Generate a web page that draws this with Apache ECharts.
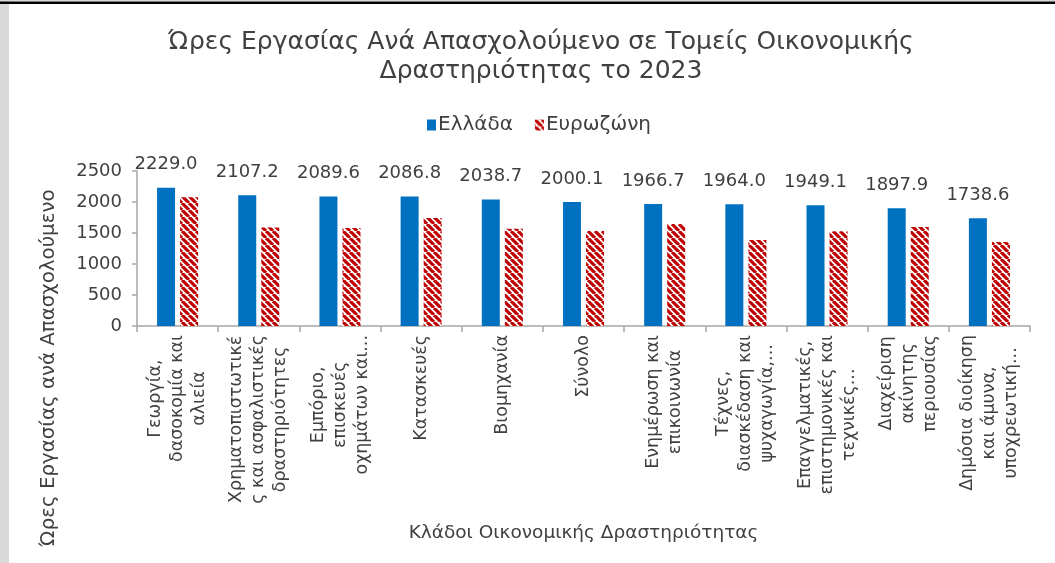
<!DOCTYPE html>
<html>
<head>
<meta charset="utf-8">
<script src="https://cdn.jsdelivr.net/npm/echarts@6/dist/echarts.min.js"></script>
<style>
html,body{margin:0;padding:0;background:#fff;}
#chart{width:1055px;height:563px;}
</style>
</head>
<body>
<div id="chart"></div>
<script>
const categories = [
  "Γεωργία,\nδασοκομία και\nαλιεία",
  "Χρηματοπιστωτικέ\nς και ασφαλιστικές\nδραστηριότητες",
  "Εμπόριο,\nεπισκευές\nοχημάτων και...",
  "Κατασκευές",
  "Βιομηχανία",
  "Σύνολο",
  "Ενημέρωση και\nεπικοινωνία",
  "Τέχνες,\nδιασκέδαση και\nψυχαγωγία,...",
  "Επαγγελματικές,\nεπιστημονικές και\nτεχνικές...",
  "Διαχείριση\nακίνητης\nπεριουσίας",
  "Δημόσια διοίκηση\nκαι άμυνα,\nυποχρεωτική..."
];
const greece = [2229.0, 2107.2, 2089.6, 2086.8, 2038.7, 2000.1, 1966.7, 1964.0, 1949.1, 1897.9, 1738.6];
const eurozone = [2075, 1590, 1580, 1742, 1570, 1532, 1645, 1387, 1527, 1597, 1355];
const yTicks = {min: 0, max: 2500, interval: 500};

const FONT = "DejaVu Sans";
const TXT = "#404040";

function hatch() {
  const c = document.createElement('canvas');
  const s = 7;
  c.width = s; c.height = s;
  const g = c.getContext('2d');
  g.fillStyle = '#ffffff';
  g.fillRect(0, 0, s, s);
  g.strokeStyle = '#C00000';
  g.lineWidth = 3.2;
  g.beginPath();
  for (let k = -1; k <= 1; k++) {
    g.moveTo(k * s, 0);
    g.lineTo(k * s + s, s);
  }
  g.stroke();
  return c;
}

const chart = echarts.init(document.getElementById('chart'), null, {renderer: 'canvas'});
const option = {
  backgroundColor: '#ffffff',
  animation: false,
  textStyle: {fontFamily: FONT, color: TXT},
  graphic: [
    {type: 'rect', shape: {x: 0, y: 0, width: 9, height: 563}, style: {fill: '#d9d9d9'}, silent: true},
    {type: 'rect', shape: {x: 0, y: 0, width: 1055, height: 1.5}, style: {fill: '#d9d9d9'}, silent: true},
    {type: 'rect', shape: {x: 0, y: 1.5, width: 1055, height: 2.5}, style: {fill: '#000000'}, silent: true},
    {type: 'text', x: 49, y: 368, rotation: Math.PI / 2,
     style: {text: 'Ώρες Εργασίας ανά Απασχολούμενο', fontFamily: FONT, fontSize: 19.8, fill: TXT,
             align: 'center', verticalAlign: 'middle'}, silent: true}
  ],
  title: {
    text: 'Ώρες Εργασίας Ανά Απασχολούμενο σε Τομείς Οικονομικής\nΔραστηριότητας το 2023',
    left: 536, top: 23, textAlign: 'center',
    textStyle: {fontFamily: FONT, fontSize: 25, fontWeight: 'normal', color: TXT, lineHeight: 29}
  },
  legend: {
    left: 422, top: 110, orient: 'horizontal', align: 'left',
    itemWidth: 9, itemHeight: 11, itemGap: 22,
    textStyle: {fontFamily: FONT, fontSize: 20, color: TXT, padding: [0, 0, 0, -3]},
    data: [{name: 'Ελλάδα', icon: 'rect'}, {name: 'Ευρωζώνη', icon: 'rect'}]
  },
  grid: {left: 137, right: 25, top: 171, bottom: 237, containLabel: false},
  xAxis: {
    type: 'category',
    data: categories,
    name: 'Κλάδοι Οικονομικής Δραστηριότητας',
    nameLocation: 'middle',
    nameGap: 198,
    nameTextStyle: {fontFamily: FONT, fontSize: 18.5, color: TXT},
    axisLine: {lineStyle: {color: '#a6a6a6', width: 1.5}},
    axisTick: {show: true, length: 6, lineStyle: {color: '#a6a6a6', width: 1.5}},
    axisLabel: {
      rotate: 90, margin: 9, interval: 0,
      fontFamily: FONT, fontSize: 17.5, color: TXT, lineHeight: 22,
      formatter: v => v.split('\n').map(l => '{c|' + l + '}').join('\n'),
      rich: {c: {align: 'center', fontFamily: FONT, fontSize: 17.5, color: TXT, lineHeight: 22}}
    }
  },
  yAxis: {
    type: 'value',
    min: yTicks.min, max: yTicks.max, interval: yTicks.interval,
    axisLine: {show: true, lineStyle: {color: '#a6a6a6', width: 1.5}},
    axisTick: {show: true, length: 5, lineStyle: {color: '#a6a6a6', width: 1.5}},
    splitLine: {show: false},
    axisLabel: {fontFamily: FONT, fontSize: 18, color: TXT, margin: 15, formatter: v => String(v)}
  },
  series: [
    {
      name: 'Ελλάδα', type: 'bar', data: greece,
      barWidth: 18, barGap: '28%',
      itemStyle: {color: '#0070C0'},
      label: {show: true, position: 'top', distance: 14, fontFamily: FONT, fontSize: 18, color: TXT,
              formatter: p => p.value.toFixed(1)}
    },
    {
      name: 'Ευρωζώνη', type: 'bar', data: eurozone,
      barWidth: 18,
      itemStyle: {color: {image: hatch(), repeat: 'repeat'}}
    }
  ]
};
chart.setOption(option);
</script>
</body>
</html>
